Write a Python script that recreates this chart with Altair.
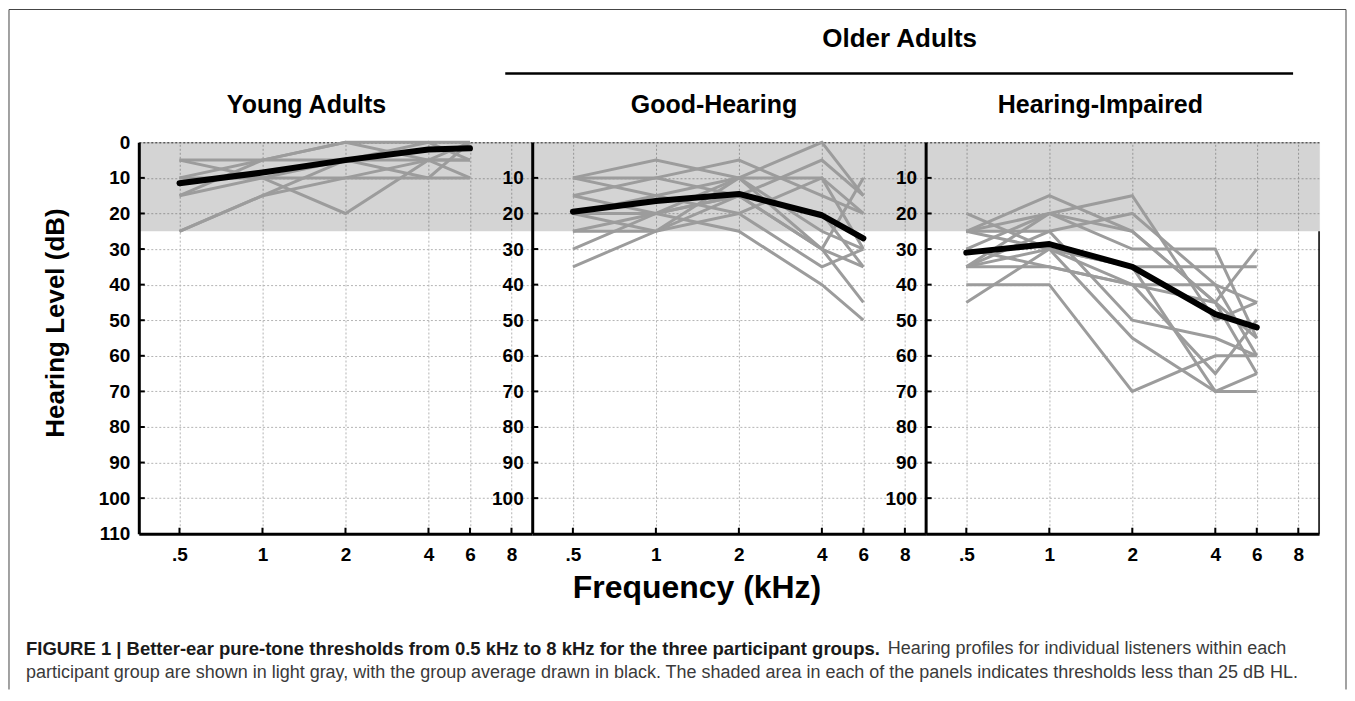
import altair as alt
import pandas as pd

# ---------------- data ----------------
FREQS = [0.5, 1, 2, 4, 6]                 # kHz with data
FREQ_POS = [0, 1, 2, 3, 3.5]              # audiogram position of each frequency
TICK_POS = [0, 1, 2, 3, 3.5, 4]
TICK_LABELS = [".5", "1", "2", "4", "6", "8"]
Y_TICKS = [0, 10, 20, 30, 40, 50, 60, 70, 80, 90, 100, 110]
SHADE_LIMIT = 25

young_profiles = [
    [5, 5, 0, 0, 0],
    [5, 10, 5, 5, 5],
    [10, 5, 0, 5, 10],
    [15, 10, 10, 10, 0],
    [25, 15, 5, 0, 5],
    [25, 15, 10, 5, 0],
    [10, 10, 20, 5, 5],
    [15, 5, 5, 10, 10],
]
young_mean = [11.5, 8.5, 5, 2, 1.7]

good_profiles = [
    [10, 5, 10, 0, 15],
    [10, 10, 15, 5, 15],
    [10, 15, 20, 10, 20],
    [15, 10, 5, 15, 20],
    [15, 20, 10, 10, 30],
    [20, 25, 15, 30, 10],
    [20, 15, 10, 25, 30],
    [25, 20, 15, 30, 35],
    [25, 25, 20, 35, 30],
    [30, 20, 25, 40, 50],
    [35, 25, 10, 30, 45],
    [20, 20, 15, 20, 35],
]
good_mean = [19.5, 16.5, 14.5, 20.5, 27]

impaired_profiles = [
    [20, 30, 40, 45, 55],
    [25, 15, 25, 45, 65],
    [25, 20, 15, 50, 45],
    [25, 25, 20, 40, 60],
    [30, 20, 30, 30, 55],
    [35, 35, 40, 40, 45],
    [35, 30, 35, 35, 35],
    [35, 25, 50, 55, 60],
    [40, 40, 70, 60, 60],
    [45, 30, 55, 70, 70],
    [30, 35, 40, 65, 50],
    [35, 20, 25, 45, 30],
    [25, 30, 35, 70, 65],
]
impaired_mean = [31, 28.6, 35, 48.3, 52]

PANEL_TITLES = ["Young Adults", "Good-Hearing", "Hearing-Impaired"]
SUPER_TITLE = "Older Adults"
X_TITLE = "Frequency (kHz)"
Y_TITLE = "Hearing Level (dB)"
CAPTION_BOLD = ("FIGURE 1 | Better-ear pure-tone thresholds from 0.5 kHz to 8 kHz "
                "for the three participant groups.")
CAPTION_1 = "Hearing profiles for individual listeners within each"
CAPTION_2 = ("participant group are shown in light gray, with the group average drawn in black. "
             "The shaded area in each of the panels indicates thresholds less than 25 dB HL.")

# ---------------- style ----------------
FONT = "Liberation Sans, Arial, Helvetica, sans-serif"
W, H = 394, 392
GRID = "#b4b4b4"

x_label_expr = " : ".join(
    f"datum.value == {p} ? '{l}'" for p, l in zip(TICK_POS, TICK_LABELS)
) + " : ''"

xscale = alt.Scale(domain=[-0.49, 4.25], nice=False, zero=False)
yscale = alt.Scale(domain=[0, 110], reverse=True, nice=False, zero=False)


def make_axes(first):
    xaxis = alt.Axis(
        values=TICK_POS, labelExpr=x_label_expr, title=None, ticks=False, tickSize=0,
        grid=True, gridDash=[2, 2], gridColor=GRID, gridWidth=1,
        domainColor="black", domainWidth=3,
        labelFont=FONT, labelFontSize=19, labelFontWeight="bold", labelColor="black",
        labelPadding=12, labelFlush=False, labelOverlap=False,
    )
    yexpr = "datum.label" if first else \
        "datum.value == 0 || datum.value == 110 ? '' : datum.label"
    yaxis = alt.Axis(
        values=Y_TICKS, labelExpr=yexpr, title=None, ticks=False, tickSize=0,
        grid=True, gridDash=[2, 2], gridWidth=1,
        gridColor={"condition": {"test": "datum.value === 0", "value": "#333333"},
                   "value": GRID},
        domainColor="black", domainWidth=3,
        labelFont=FONT, labelFontSize=19, labelFontWeight="bold", labelColor="black",
        labelPadding=9, labelFlush=False, labelOverlap=False,
    )
    return xaxis, yaxis


def long_df(profiles):
    rows = []
    for i, prof in enumerate(profiles):
        for p, v in zip(FREQ_POS, prof):
            rows.append({"listener": i, "pos": p, "level": v})
    return pd.DataFrame(rows)


ONE = alt.Data(values=[{"k": 0}])


def text_layer(txt, x, y, size, weight="bold", align="center", angle=0, color="black"):
    kw = dict(text=txt, font=FONT, fontSize=size, fontWeight=weight, align=align,
              baseline="middle", color=color)
    if angle:
        kw["angle"] = angle
    return alt.Chart(ONE).mark_text(**kw).encode(x=alt.value(x), y=alt.value(y))


def rule_layer(x, x2, y, y2, width=1, color="#444444"):
    return alt.Chart(ONE).mark_rule(color=color, strokeWidth=width).encode(
        x=alt.value(x), x2=alt.value(x2), y=alt.value(y), y2=alt.value(y2))


def panel(profiles, mean, idx):
    xaxis, yaxis = make_axes(idx == 0)
    ind = long_df(profiles)
    mdf = pd.DataFrame({"pos": FREQ_POS, "level": mean})

    shade = alt.Chart(pd.DataFrame({"top": [0], "bottom": [SHADE_LIMIT]})).mark_rect(
        color="black", opacity=0.17
    ).encode(
        x=alt.value(0), x2=alt.value(W),
        y=alt.Y("top:Q", scale=yscale, axis=yaxis), y2="bottom:Q",
    )
    ytick = alt.Chart(pd.DataFrame({"v": Y_TICKS[1:-1]})).mark_rule(
        color="black", strokeWidth=2
    ).encode(x=alt.value(0), x2=alt.value(6), y=alt.Y("v:Q", scale=yscale, axis=yaxis))
    xtick = alt.Chart(pd.DataFrame({"p": TICK_POS})).mark_rule(
        color="black", strokeWidth=2
    ).encode(x=alt.X("p:Q", scale=xscale, axis=xaxis), y=alt.value(H), y2=alt.value(H - 6))
    lines = alt.Chart(ind).mark_line(color="#9c9c9c", strokeWidth=3).encode(
        x=alt.X("pos:Q", scale=xscale, axis=xaxis),
        y=alt.Y("level:Q", scale=yscale, axis=yaxis),
        detail="listener:N",
    )
    mline = alt.Chart(mdf).mark_line(
        color="black", strokeWidth=6, strokeCap="round", strokeJoin="round"
    ).encode(
        x=alt.X("pos:Q", scale=xscale, axis=xaxis),
        y=alt.Y("level:Q", scale=yscale, axis=yaxis),
    )
    layers = [shade, ytick, xtick, lines, mline]

    if idx == 2:
        layers.append(
            alt.Chart(pd.DataFrame({"a": [SHADE_LIMIT]})).mark_rule(
                color="black", strokeWidth=1.5
            ).encode(x=alt.value(W), y=alt.Y("a:Q", scale=yscale, axis=yaxis),
                     y2=alt.value(H))
        )

    if idx == 0:
        # panel titles, super title, axis titles, caption, frame
        layers += [
            rule_layer(-130, 1209, -133, -133),
            rule_layer(-130, -130, -133, 548),
            rule_layer(1209, 1209, -133, 548),
            text_layer(SUPER_TITLE, 762, -103, 26),
            rule_layer(367, 1156, -69, -69, width=2.5, color="black"),
            text_layer(PANEL_TITLES[0], 168, -37, 25),
            text_layer(PANEL_TITLES[1], 576, -37, 25),
            text_layer(PANEL_TITLES[2], 963, -37, 25),
            text_layer(X_TITLE, 559, 446, 32),
            text_layer(Y_TITLE, -83, 181, 26, angle=270),
            text_layer(CAPTION_BOLD, -113, 507, 18.5, align="left", color="#1a1a1a"),
            text_layer(CAPTION_1, 750, 507, 18, weight="normal", align="left", color="#3a3a3a"),
            text_layer(CAPTION_2, -113, 531, 18, weight="normal", align="left", color="#3a3a3a"),
        ]
    return alt.layer(*layers).properties(width=W, height=H)


p1 = panel(young_profiles, young_mean, 0)
p2 = panel(good_profiles, good_mean, 1)
p3 = panel(impaired_profiles, impaired_mean, 2)

chart = alt.hconcat(p1, p2, p3, spacing=0, bounds="flush").properties(
    padding=0
).configure_view(stroke=None).configure(font=FONT, background="white")

chart.save("out.html", embed_options={"renderer": "svg", "actions": False})
